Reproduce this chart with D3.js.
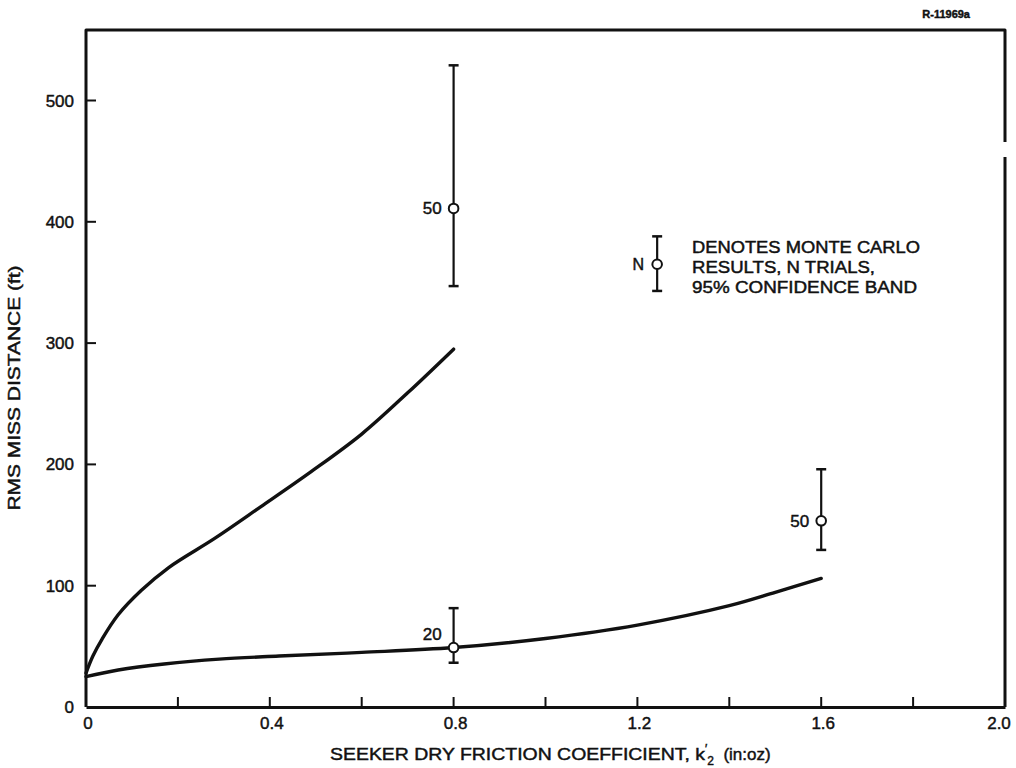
<!DOCTYPE html>
<html>
<head>
<meta charset="utf-8">
<script src="https://cdn.jsdelivr.net/npm/d3@7"></script>
<style>
  html, body { margin: 0; padding: 0; background: #fff; }
  svg text { font-family: "Liberation Sans", Arial, sans-serif; fill: #111; stroke: #111; stroke-width: 0.45px; }
</style>
</head>
<body>
<svg id="chart" width="1016" height="768"></svg>
<script>
// ---- data ----
const xTicks = [0, 0.4, 0.8, 1.2, 1.6, 2.0];
const xTickLabels = ["0", "0.4", "0.8", "1.2", "1.6", "2.0"];
const xMinorTicks = [0.2, 0.6, 1.0, 1.4, 1.8];
const yTicks = [0, 100, 200, 300, 400, 500];

const upperX = [0, 0.015, 0.035, 0.07, 0.12, 0.18, 0.28, 0.38, 0.49, 0.6, 0.7, 0.8];
const upperY = [28, 42, 56, 76, 96, 115, 139, 165, 194, 225, 259, 295];

const lowerX = [0, 0.07, 0.17, 0.29, 0.42, 0.6, 0.8, 1.0, 1.2, 1.4, 1.5, 1.6];
const lowerY = [25, 30.5, 35.5, 39.5, 42, 45, 49, 56.5, 67.5, 83.5, 94.5, 106];

const mcX = [0.8, 0.8, 1.6];
const mcMid = [411, 49, 153.5];
const mcLo = [347, 36.5, 129.5];
const mcHi = [529, 81.5, 196];
const mcN = ["50", "20", "50"];

const legendX = 1.243;
const legendMid = 365;
const legendLo = 343;
const legendHi = 388;
const legendLines = ["DENOTES MONTE CARLO", "RESULTS, N TRIALS,", "95% CONFIDENCE BAND"];

// ---- scales ----
const svg = d3.select("#chart");
const x = d3.scaleLinear().domain([0, 2]).range([86, 1005]);
const y = d3.scaleLinear().domain([0, 500]).range([707, 100.5]);
const yTop = 30;

// frame
const frame = svg.append("g").attr("fill", "none").attr("stroke", "#111").attr("stroke-width", 3);
frame.append("path").attr("d", `M${x(0)},${y(0)} V${yTop} H${x(2)} V142`).attr("stroke-linejoin", "round");
frame.append("path").attr("d", `M${x(2)},157 V${y(0)}`);

// x axis (ticks inward)
const xAxis = d3.axisBottom(x).tickValues(xTicks.concat(xMinorTicks)).tickSize(0).tickFormat("");
svg.append("g").attr("transform", `translate(0,${y(0)})`).call(xAxis)
  .call(g => g.select(".domain").attr("stroke", "#111").attr("stroke-width", 3));
svg.append("g").selectAll("line").data(xTicks.concat(xMinorTicks).filter(d => d > 0 && d < 2))
  .join("line").attr("x1", d => x(d)).attr("x2", d => x(d))
  .attr("y1", y(0)).attr("y2", y(0) - 10).attr("stroke", "#111").attr("stroke-width", 2);
svg.append("g").selectAll("text").data(xTicks).join("text")
  .attr("x", (d) => Math.min(x(d) + 2, 999)).attr("y", y(0) + 22).attr("text-anchor", "middle")
  .attr("font-size", 17).text((d, i) => xTickLabels[i]);

// y axis (ticks inward)
const yAxis = d3.axisLeft(y).tickValues(yTicks).tickSize(0).tickFormat("");
svg.append("g").attr("transform", `translate(${x(0)},0)`).call(yAxis)
  .call(g => g.select(".domain").remove());
svg.append("g").selectAll("line").data(yTicks.filter(d => d > 0))
  .join("line").attr("x1", x(0)).attr("x2", x(0) + 10)
  .attr("y1", d => y(d)).attr("y2", d => y(d)).attr("stroke", "#111").attr("stroke-width", 2);
svg.append("g").selectAll("text").data(yTicks).join("text")
  .attr("x", x(0) - 12).attr("y", d => y(d) + 6).attr("text-anchor", "end")
  .attr("font-size", 17).text(d => d);

// axis titles
svg.append("text").attr("transform", `translate(20,388) rotate(-90)`)
  .attr("text-anchor", "middle").attr("font-size", 16)
  .attr("textLength", 245).attr("lengthAdjust", "spacingAndGlyphs").text("RMS MISS DISTANCE (ft)");

const xt = svg.append("text").attr("x", 330).attr("y", 760).attr("font-size", 17);
xt.append("tspan").text("SEEKER DRY FRICTION COEFFICIENT, k")
  .attr("textLength", 375).attr("lengthAdjust", "spacingAndGlyphs");
xt.append("tspan").attr("dy", -7).attr("font-size", 12).text("′");
xt.append("tspan").attr("dx", 0).attr("dy", 12).attr("font-size", 12).text("2");
xt.append("tspan").attr("dy", -5).text("\u00a0\u00a0(in:oz)");

// report number
svg.append("text").attr("x", 970).attr("y", 18).attr("text-anchor", "end")
  .attr("font-size", 11).attr("font-weight", "bold").text("R-11969a");

// curves
const line = d3.line().x(d => x(d[0])).y(d => y(d[1])).curve(d3.curveCatmullRom.alpha(0.5));
svg.append("path").datum(upperX.map((v, i) => [v, upperY[i]]))
  .attr("d", line).attr("fill", "none").attr("stroke", "#111").attr("stroke-width", 3.4).attr("stroke-linecap", "round");
svg.append("path").datum(lowerX.map((v, i) => [v, lowerY[i]]))
  .attr("d", line).attr("fill", "none").attr("stroke", "#111").attr("stroke-width", 3.4).attr("stroke-linecap", "round");

// error bars
function errorBar(g, xv, lo, hi, mid) {
  g.append("line").attr("x1", x(xv)).attr("x2", x(xv)).attr("y1", y(hi)).attr("y2", y(lo))
    .attr("stroke", "#111").attr("stroke-width", 2.2);
  [lo, hi].forEach(v => g.append("line").attr("x1", x(xv) - 5).attr("x2", x(xv) + 5)
    .attr("y1", y(v)).attr("y2", y(v)).attr("stroke", "#111").attr("stroke-width", 2.5));
  g.append("circle").attr("cx", x(xv)).attr("cy", y(mid)).attr("r", 4.8)
    .attr("fill", "#fff").attr("stroke", "#111").attr("stroke-width", 2);
}
const eb = svg.append("g");
mcX.forEach((xv, i) => {
  errorBar(eb, xv, mcLo[i], mcHi[i], mcMid[i]);
  eb.append("text").attr("x", x(xv) - 12).attr("y", y(mcMid[i]) + (i === 1 ? -8 : 6))
    .attr("text-anchor", "end").attr("font-size", 17).text(mcN[i]);
});

// legend
const lg = svg.append("g");
errorBar(lg, legendX, legendLo, legendHi, legendMid);
lg.append("text").attr("x", x(legendX) - 13).attr("y", y(legendMid) + 6)
  .attr("text-anchor", "end").attr("font-size", 16).text("N");
const lens = [228, 183, 225];
legendLines.forEach((t, i) => {
  lg.append("text").attr("x", 692).attr("y", 252.5 + i * 20).attr("font-size", 16)
    .attr("textLength", lens[i]).attr("lengthAdjust", "spacingAndGlyphs").text(t);
});
</script>
</body>
</html>
